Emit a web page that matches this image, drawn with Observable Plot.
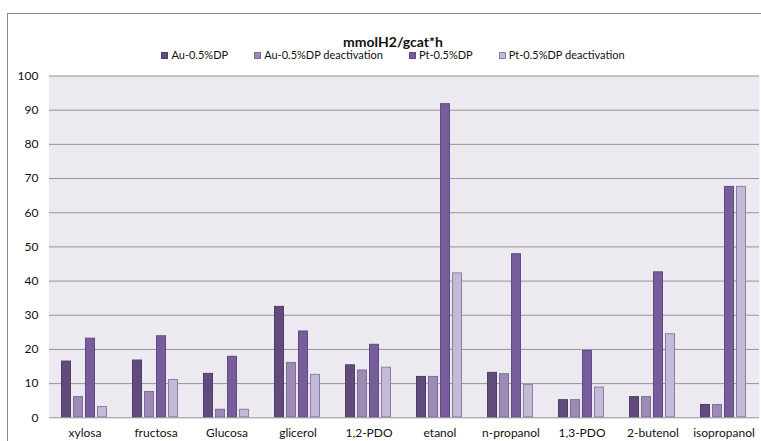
<!DOCTYPE html>
<html>
<head>
<meta charset="utf-8">
<script src="https://cdn.jsdelivr.net/npm/d3@7"></script>
<script src="https://cdn.jsdelivr.net/npm/@observablehq/plot@0.6"></script>
<style>
  html, body { margin: 0; padding: 0; background: #fff; overflow: hidden; }
  #page { width: 761px; height: 441px; overflow: hidden; font-family: Lato, "Open Sans", sans-serif; }
  #wrap { margin: 13px 0 0 7px; width: 800px; height: 460px; border-left: 1px solid #8a8a8a; border-top: 1px solid #8a8a8a; }
  #header { position: relative; height: 46px; }
  #title { position: absolute; left: 0; width: 770px; top: 20px; text-align: center; font-weight: bold; font-size: 14px; line-height: 16px; color: #111; }
  #legend { position: absolute; left: 0; width: 770px; top: 35px; display: flex; justify-content: center; gap: 26px; font-size: 11px; line-height: 12px; color: #111; }
  .item { display: flex; align-items: center; gap: 3px; white-space: nowrap; }
  .sw { width: 7px; height: 7px; box-sizing: border-box; border: 1px solid; }
  #chart { position: relative; height: 381px; margin-left: -8px; }
  #chart > svg { position: absolute; left: 0; top: 0; }
</style>
</head>
<body>
<div id="page">
  <div id="wrap">
    <div id="header"><div id="title"></div><div id="legend"></div></div>
    <div id="chart"></div>
  </div>
</div>
<script>
const titleText = "mmolH2/gcat*h";
const categories = ["xylosa","fructosa","Glucosa","glicerol","1,2-PDO","etanol","n-propanol","1,3-PDO","2-butenol","isopropanol"];
const series = ["Au-0.5%DP","Au-0.5%DP deactivation","Pt-0.5%DP","Pt-0.5%DP deactivation"];
const auDP     = [16.6, 16.9, 13.0, 32.6, 15.5, 12.1, 13.3, 5.3, 6.2, 3.9];
const auDeact  = [6.2, 7.7, 2.5, 16.2, 14.0, 12.1, 12.9, 5.3, 6.2, 3.9];
const ptDP     = [23.3, 24.0, 18.0, 25.4, 21.5, 91.9, 48.0, 19.7, 42.7, 67.7];
const ptDeact  = [3.3, 11.2, 2.5, 12.7, 14.8, 42.4, 9.7, 9.0, 24.6, 67.7];
const yTicks = [0,10,20,30,40,50,60,70,80,90,100];
const fills   = ["#604B7C", "#9D8BB6", "#775D9B", "#C4BAD5"];
const strokes = ["#4F3E68", "#7E6C9C", "#614A84", "#8E7DAB"];

const valuesBySeries = [auDP, auDeact, ptDP, ptDeact];
const data = [];
categories.forEach((c, i) => series.forEach((s, j) => data.push({category: c, series: s, value: valuesBySeries[j][i]})));
const gridData = [];
categories.forEach(c => yTicks.forEach(v => gridData.push({category: c, value: v})));

document.getElementById("title").textContent = titleText;
const legend = document.getElementById("legend");
series.forEach((s, j) => {
  const it = document.createElement("div"); it.className = "item";
  const sw = document.createElement("span"); sw.className = "sw";
  sw.style.background = fills[j]; sw.style.borderColor = strokes[j];
  const t = document.createElement("span"); t.textContent = s;
  it.append(sw, t); legend.append(it);
});

const W = 761, H = 381, mL = 46, mR = 0, mT = 15.5, mB = 23.7;
const font = "Lato, 'Open Sans', sans-serif";

const chart = Plot.plot({
  width: W, height: H, marginLeft: mL, marginRight: mR, marginTop: mT, marginBottom: mB,
  style: {fontFamily: font, fontSize: "12px", color: "#111", background: "transparent"},
  fx: {domain: categories, padding: 0, axis: "bottom", label: null, tickSize: 0, tickPadding: 11},
  x: {domain: series, paddingInner: 0.15, paddingOuter: 0.83, axis: null},
  y: {domain: [0, 100], ticks: yTicks, label: null, tickSize: 0, tickPadding: 11},
  color: {domain: series, range: fills},
  marks: [
    Plot.frame({fill: "#ECEAF0", stroke: null}),
    Plot.barY(categories, {fx: d => d, y1: () => 0, y2: () => 100, fill: "#ECEAF0"}),
    Plot.ruleY(gridData, {fx: "category", y: "value", stroke: "#959595", strokeWidth: 1}),
    Plot.barY(data, {fx: "category", x: "series", y: "value", fill: d => fills[series.indexOf(d.series)],
      stroke: d => strokes[series.indexOf(d.series)], strokeWidth: 1, inset: 0.5})
  ]
});

document.getElementById("chart").append(chart);
</script>
</body>
</html>
